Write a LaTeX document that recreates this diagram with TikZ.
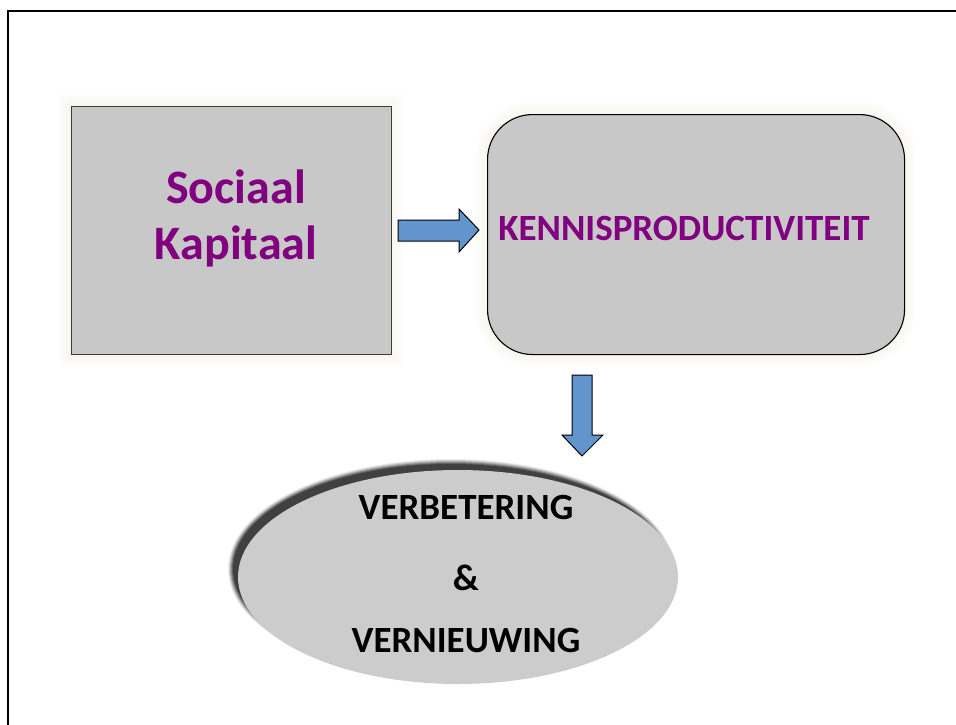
\documentclass[tikz,border=0pt]{standalone}
\usepackage{fontspec}
\setmainfont{Carlito}
\usetikzlibrary{shapes.geometric}
\definecolor{boxgray}{RGB}{200,200,200}
\definecolor{ellgray}{RGB}{204,204,204}
\definecolor{arrowblue}{RGB}{98,148,205}
\definecolor{txtpurple}{RGB}{128,0,128}
\definecolor{halo}{RGB}{235,230,210}
\tikzset{
  blockarrow/.style={draw=black, line width=1pt, fill=arrowblue, line join=miter},
  purpletext/.style={text=txtpurple, font=\bfseries\fontsize{48}{56}\selectfont, inner sep=0pt},
  kenntext/.style={text=txtpurple, font=\bfseries\fontsize{37}{44}\selectfont, inner sep=0pt},
  blacktext/.style={text=black, font=\bfseries\fontsize{37}{44}\selectfont, inner sep=0pt},
}
\begin{document}
\begin{tikzpicture}[x=1pt,y=-1pt]
\useasboundingbox (0,0) rectangle (956,724);
% frame
\draw[line width=2.4pt] (8,760) -- (8,11) -- (990,11);
% halos
\foreach \k in {1,...,8} {
  \fill[halo, opacity=0.05] (71-1.6*\k,106-1.6*\k) rectangle (391+1.6*\k,354+1.6*\k);
  \fill[halo, opacity=0.05, rounded corners=45+1.6*\k] (487-1.6*\k,114-1.6*\k) rectangle (904+1.6*\k,354+1.6*\k);
}
% boxes
\node[draw={rgb,255:red,60;green,60;blue,60}, line width=1.3pt, fill=boxgray, minimum width=320, minimum height=248, anchor=north west, inner sep=0pt] (soc) at (71,106) {};
\node[draw=black, line width=1.1pt, fill=boxgray, rounded corners=45, minimum width=417, minimum height=240, anchor=north west, inner sep=0pt] (kenn) at (487,114) {};
\node[purpletext, anchor=base] (t1) at (236,203) {Sociaal};
\node[purpletext, anchor=base] (t2) at (236,259) {Kapitaal};
\node[kenntext, anchor=base] (t3) at (684,240) {KENNISPRODUCTIVITEIT};
% arrows
\coordinate (ra) at (398,230);
\draw[blockarrow] ([shift={(0,-10)}]ra) -- ++(61,0) -- ++(0,-11) -- ++(20,21) -- ++(-20,22) -- ++(0,-11) -- ++(-61,0) -- cycle;
\coordinate (da) at (582,375);
\draw[blockarrow] ([shift={(-10,0)}]da) -- ++(20,0) -- ++(0,60) -- ++(11,0) -- ++(-21,21) -- ++(-20,-21) -- ++(10,0) -- cycle;
% ellipse shadow
\foreach \k/\o in {3/0.08,2/0.12,1/0.16,0/0.22,-1/0.28,-2/0.34} {
  \fill[black, opacity=\o] (451,569) ellipse ({220+\k} and {107+\k});
}
\node[draw=none, fill=ellgray, ellipse, minimum width=440, minimum height=214, inner sep=0pt] (ell) at (458,577) {};
\node[blacktext, anchor=base] (e1) at (466,519) {VERBETERING};
\node[blacktext, anchor=base] (e2) at (466,590) {\&};
\node[blacktext, anchor=base] (e3) at (466,652) {VERNIEUWING};
\end{tikzpicture}
\end{document}
